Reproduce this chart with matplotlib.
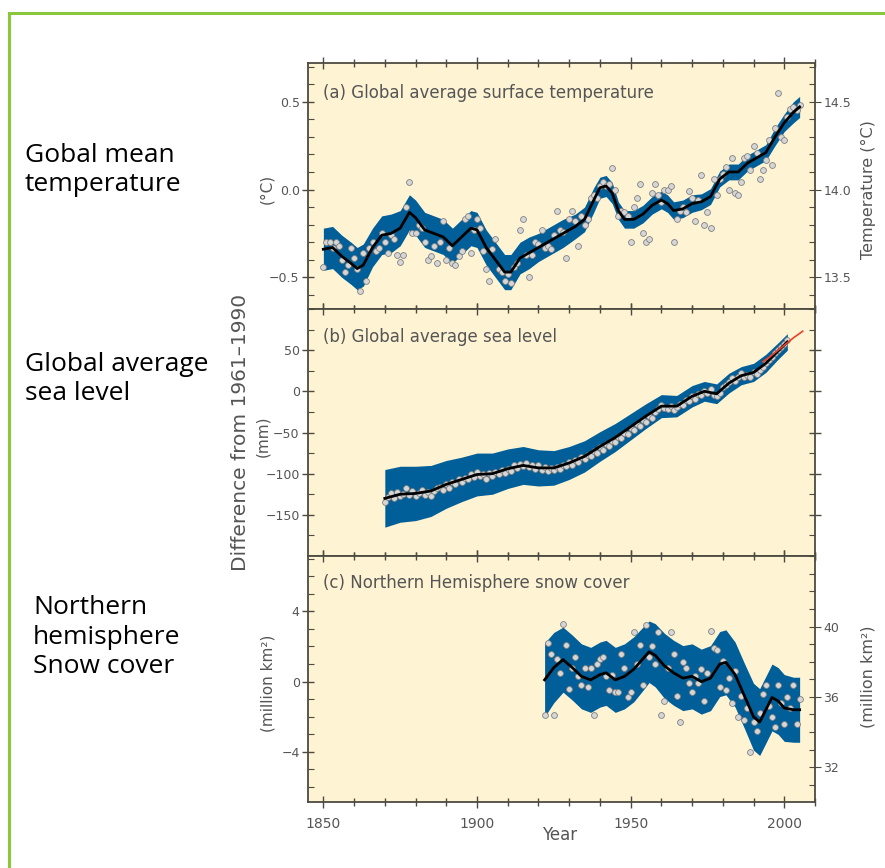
"""IPCC AR4 style three-panel chart: temperature, sea level, snow cover."""

import matplotlib
matplotlib.use("Agg")  # no display
import matplotlib.pyplot as plt
from matplotlib.patches import Rectangle
from matplotlib.ticker import FixedLocator, MultipleLocator

# ---- (a) global average surface temperature, anomaly vs 1961-1990 (degC)
temp_years = list(range(1850, 2006))
temp_vals = [
    -0.44, -0.30, -0.30, -0.33, -0.30, -0.32, -0.40, -0.47, -0.43, -0.33,
    -0.39, -0.45, -0.58, -0.36, -0.52, -0.33, -0.30, -0.35, -0.33, -0.25,
    -0.30, -0.36, -0.26, -0.28, -0.37, -0.41, -0.37, -0.10, 0.04, -0.25,
    -0.25, -0.20, -0.22, -0.30, -0.40, -0.38, -0.32, -0.42, -0.30, -0.18,
    -0.40, -0.33, -0.42, -0.43, -0.38, -0.35, -0.17, -0.15, -0.36, -0.23,
    -0.17, -0.22, -0.35, -0.45, -0.52, -0.34, -0.28, -0.45, -0.47, -0.52,
    -0.48, -0.53, -0.44, -0.42, -0.23, -0.17, -0.37, -0.50, -0.37, -0.30,
    -0.31, -0.23, -0.33, -0.32, -0.34, -0.26, -0.12, -0.23, -0.24, -0.39,
    -0.17, -0.12, -0.18, -0.32, -0.15, -0.20, -0.17, -0.05, -0.03, -0.05,
    0.02, 0.04, 0.02, 0.03, 0.12, 0.00, -0.15, -0.12, -0.13, -0.15,
    -0.30, -0.10, -0.05, 0.03, -0.25, -0.30, -0.28, -0.02, 0.03, -0.03,
    -0.07, 0.00, 0.00, 0.02, -0.30, -0.17, -0.12, -0.10, -0.13, -0.01,
    -0.05, -0.18, -0.06, 0.08, -0.20, -0.13, -0.22, 0.06, -0.03, 0.06,
    0.09, 0.13, 0.00, 0.18, -0.02, -0.03, 0.04, 0.18, 0.19, 0.11,
    0.25, 0.21, 0.06, 0.11, 0.17, 0.28, 0.14, 0.35, 0.55, 0.30,
    0.28, 0.41, 0.46, 0.47, 0.45, 0.48,
]
temp_smooth_years = [1850, 1853, 1856, 1859, 1861, 1863, 1866, 1869, 1872, 1875,
                     1878, 1880, 1883, 1886, 1889, 1892, 1895, 1898, 1900, 1903,
                     1906, 1909, 1911, 1914, 1917, 1920, 1924, 1928, 1932, 1935,
                     1938, 1940, 1942, 1944, 1946, 1948, 1951, 1954, 1957, 1960,
                     1962, 1964, 1967, 1970, 1973, 1976, 1979, 1982, 1985, 1988,
                     1991, 1994, 1997, 2000, 2003, 2005]
temp_smooth = [-0.34, -0.33, -0.38, -0.42, -0.45, -0.43, -0.33, -0.26, -0.25, -0.22,
               -0.13, -0.16, -0.23, -0.25, -0.27, -0.32, -0.27, -0.22, -0.23, -0.33,
               -0.40, -0.47, -0.47, -0.39, -0.36, -0.33, -0.29, -0.25, -0.21, -0.17,
               -0.06, 0.01, 0.02, -0.02, -0.12, -0.17, -0.17, -0.14, -0.09, -0.06,
               -0.08, -0.12, -0.11, -0.08, -0.07, -0.04, 0.06, 0.10, 0.10, 0.15,
               0.18, 0.21, 0.30, 0.38, 0.44, 0.47]
temp_band = [0.12, 0.12, 0.12, 0.12, 0.12, 0.12, 0.11, 0.11, 0.11, 0.10,
             0.10, 0.10, 0.10, 0.10, 0.10, 0.10, 0.10, 0.10, 0.10, 0.10,
             0.10, 0.10, 0.10, 0.09, 0.09, 0.08, 0.08, 0.08, 0.07, 0.07,
             0.07, 0.06, 0.06, 0.06, 0.05, 0.05, 0.05, 0.05, 0.05, 0.05,
             0.05, 0.05, 0.05, 0.05, 0.045, 0.045, 0.045, 0.045, 0.045, 0.045,
             0.045, 0.045, 0.05, 0.05, 0.06, 0.06]

# ---- (b) global average sea level, anomaly vs 1961-1990 (mm)
sea_years = list(range(1870, 2002))
sea_vals = [
    -135, -128, -124, -130, -122, -127, -125, -118, -126, -121,
    -127, -124, -120, -126, -122, -127, -121, -118, -116, -120,
    -113, -117, -110, -112, -106, -110, -105, -107, -101, -104,
    -98, -103, -100, -106, -99, -103, -98, -101, -95, -99,
    -94, -97, -90, -93, -88, -91, -87, -92, -89, -94,
    -90, -95, -92, -97, -93, -96, -92, -94, -89, -91,
    -86, -89, -84, -86, -80, -82, -77, -79, -73, -75,
    -68, -71, -64, -66, -60, -61, -55, -57, -50, -52,
    -45, -47, -40, -42, -35, -37, -30, -32, -25, -22,
    -17, -20, -22, -18, -23, -19, -15, -17, -10, -12,
    -6, -9, -3, -5, 1, -2, 3, -4, -6, -2,
    5, 8, 11, 16, 13, 18, 22, 17, 20, 18,
    24, 21, 26, 30, 34, 38, 42, 47, 50, 54,
    57, 62,
]
sea_smooth_years = [1870, 1875, 1880, 1885, 1890, 1895, 1900, 1905, 1910, 1915,
                    1920, 1925, 1930, 1935, 1940, 1945, 1950, 1955, 1960, 1965,
                    1970, 1974, 1978, 1982, 1986, 1990, 1994, 1998, 2001]
sea_smooth = [-130, -125, -124, -121, -113, -107, -101, -100, -94, -90,
              -93, -93, -87, -79, -67, -56, -43, -30, -18, -18,
              -6, 0, -3, 10, 19, 23, 34, 49, 60]
sea_band = [35, 34, 33, 31, 29, 27, 26, 25, 24, 23,
            22, 21, 20, 19, 18, 17, 16, 15, 14, 13,
            13, 12, 12, 12, 11, 11, 11, 10, 10]
# satellite altimetry (red)
sat_years = [1993, 1995, 1997, 1999, 2001, 2003, 2006]
sat_vals = [36, 41, 47, 53, 59, 65, 73]

# ---- (c) NH snow cover, anomaly vs 1961-1990 (million km2)
snow_years = list(range(1922, 2006))
snow_vals = [
    -1.9, 2.2, 1.6, -1.9, 1.3, 0.5, 3.3, 2.1, -0.4, 0.8,
    1.4, 0.3, -0.2, 0.8, -0.3, 0.8, -1.9, 1.0, 1.3, 1.4,
    0.3, -0.5, 0.4, -0.6, -0.6, 1.6, 0.8, -0.9, -0.6, 2.8,
    1.0, 2.1, -0.2, 3.2, 1.4, 2.0, 1.0, 2.8, -1.9, -1.1,
    0.8, 2.8, 1.6, -0.8, -2.3, 1.1, 0.8, -0.1, -0.6, 0.3,
    -0.1, 0.7, -1.1, 0.5, 2.9, 1.9, 1.8, -0.3, 1.2, -0.5,
    0.2, -1.2, 0.6, -2.0, -0.8, -2.2, -1.5, -4.0, -2.3, -2.8,
    -1.8, -0.7, -0.2, -1.4, -2.0, -2.6, -0.2, -1.2, -2.4, -0.9,
    -1.5, -0.2, -2.4, -1.0,
]
snow_smooth_years = [1922, 1925, 1928, 1931, 1934, 1937, 1940, 1942, 1945, 1948,
                     1951, 1954, 1956, 1958, 1961, 1964, 1967, 1970, 1973, 1976,
                     1979, 1981, 1984, 1987, 1990, 1992, 1994, 1996, 1998, 2000,
                     2003, 2005]
snow_smooth = [0.1, 0.8, 1.25, 0.8, 0.3, 0.1, 0.4, 0.5, 0.1, 0.3,
               0.7, 1.3, 1.7, 1.5, 0.9, 0.5, 0.2, 0.3, 0.0, 0.2,
               1.0, 1.1, 0.4, -0.8, -2.0, -2.3, -1.6, -0.9, -1.1, -1.5,
               -1.6, -1.6]
snow_band = [2.1, 2.0, 1.85, 1.85, 1.85, 1.85, 1.85, 1.85, 1.85, 1.85,
             1.85, 1.8, 1.75, 1.8, 1.85, 1.85, 1.85, 1.85, 1.85, 1.85,
             1.85, 1.85, 1.85, 1.85, 1.9, 1.9, 1.9, 1.9, 1.9, 1.9,
             1.85, 1.85]

BG = "#FEF4D4"
BAND = "#005E98"
AXC = "#4d4b40"
TXT = "#555555"


def draw_panel(ax, yrs, vals, s_yrs, s_vals, band):
    lo = [v - b for v, b in zip(s_vals, band)]
    hi = [v + b for v, b in zip(s_vals, band)]
    ax.fill_between(s_yrs, lo, hi, color=BAND, lw=0, zorder=1)
    ax.plot(yrs, vals, "o", ms=4.2, mfc="#d6d6d6", mec="#808080", mew=0.6, zorder=2)
    ax.plot(s_yrs, s_vals, color="black", lw=2.0, zorder=3)


def style(ax, bottom_labels=False):
    ax.set_facecolor(BG)
    ax.set_xlim(1845, 2010)
    for sp in ax.spines.values():
        sp.set_color(AXC)
        sp.set_linewidth(1.3)
    ax.xaxis.set_major_locator(FixedLocator([1850, 1900, 1950, 2000]))
    ax.xaxis.set_minor_locator(MultipleLocator(10))
    ax.tick_params(axis="x", which="both", direction="inout", top=True, bottom=True,
                   color=AXC, labelbottom=bottom_labels, labelsize=10, labelcolor=TXT, pad=6)
    ax.tick_params(axis="x", which="major", length=9, width=1.0)
    ax.tick_params(axis="x", which="minor", length=6, width=1.0)
    ax.tick_params(axis="y", which="major", direction="inout", length=8, width=1.0,
                   color=AXC, labelsize=9, labelcolor=TXT, pad=2)
    ax.tick_params(axis="y", which="minor", direction="in", length=4, width=0.8, color=AXC)


def style_right(ax):
    ax.tick_params(axis="y", which="major", direction="inout", length=8, color=AXC,
                   labelsize=9, labelcolor=TXT, pad=2)
    ax.tick_params(axis="y", which="minor", direction="in", length=4, width=0.8, color=AXC)
    for sp in ax.spines.values():
        sp.set_visible(False)


fig = plt.figure(figsize=(8.85, 8.68), dpi=100)
W, H = 885, 868
x0, x1 = 308 / W, 815 / W
edges = [63, 309, 556, 802]
axs = []
for i in range(3):
    ax = fig.add_axes([x0, 1 - edges[i + 1] / H, x1 - x0, (edges[i + 1] - edges[i]) / H])
    axs.append(ax)
ax_a, ax_b, ax_c = axs

# (a)
draw_panel(ax_a, temp_years, temp_vals, temp_smooth_years, temp_smooth, temp_band)
style(ax_a)
ax_a.set_ylim(-0.68, 0.72)
ax_a.yaxis.set_major_locator(FixedLocator([-0.5, 0.0, 0.5]))
ax_a.yaxis.set_minor_locator(MultipleLocator(0.1))
ax_a.text(0.03, 0.88, "(a) Global average surface temperature", transform=ax_a.transAxes,
          fontsize=12, color=TXT, va="center")
ra = ax_a.twinx()
ra.set_ylim(-0.68 + 14.0, 0.72 + 14.0)
ra.yaxis.set_major_locator(FixedLocator([13.5, 14.0, 14.5]))
ra.yaxis.set_minor_locator(MultipleLocator(0.1))
style_right(ra)

# (b)
draw_panel(ax_b, sea_years, sea_vals, sea_smooth_years, sea_smooth, sea_band)
ax_b.plot(sat_years, sat_vals, color="#e8412c", lw=1.2, zorder=4)
style(ax_b)
ax_b.set_ylim(-200, 100)
ax_b.yaxis.set_major_locator(FixedLocator([-150, -100, -50, 0, 50]))
ax_b.yaxis.set_minor_locator(MultipleLocator(25))
ax_b.tick_params(axis="y", which="both", right=True)
ax_b.text(0.03, 0.885, "(b) Global average sea level", transform=ax_b.transAxes,
          fontsize=12, color=TXT, va="center")

# (c)
draw_panel(ax_c, snow_years, snow_vals, snow_smooth_years, snow_smooth, snow_band)
style(ax_c, bottom_labels=True)
ax_c.set_ylim(-6.85, 7.15)
ax_c.yaxis.set_major_locator(FixedLocator([-4, 0, 4]))
ax_c.yaxis.set_minor_locator(MultipleLocator(1))
ax_c.text(0.03, 0.89, "(c) Northern Hemisphere snow cover", transform=ax_c.transAxes,
          fontsize=12, color=TXT, va="center")
rc = ax_c.twinx()
rc.set_ylim(-6.85 + 36.87, 7.15 + 36.87)
rc.yaxis.set_major_locator(FixedLocator([32, 36, 40]))
rc.yaxis.set_minor_locator(MultipleLocator(1))
style_right(rc)

# axis labels
fig.text(560 / W, 1 - 835 / H, "Year", fontsize=12, color=TXT, ha="center", va="center")
fig.text(240 / W, 1 - 432 / H, "Difference from 1961\u20131990", fontsize=14.5,
         color=TXT, rotation=90, ha="center", va="center")
fig.text(267 / W, 1 - 189 / H, "(\u00b0C)", fontsize=11, color=TXT,
         rotation=90, ha="center", va="center")
fig.text(263 / W, 1 - 436 / H, "(mm)", fontsize=11, color=TXT,
         rotation=90, ha="center", va="center")
fig.text(268 / W, 1 - 683 / H, "(million km\u00b2)", fontsize=11, color=TXT,
         rotation=90, ha="center", va="center")
fig.text(868 / W, 1 - 190 / H, "Temperature (\u00b0C)", fontsize=11.5, color=TXT,
         rotation=90, ha="center", va="center")
fig.text(868 / W, 1 - 677 / H, "(million km\u00b2)", fontsize=11.5, color=TXT,
         rotation=90, ha="center", va="center")

# slide captions on the left
cap = dict(fontsize=19, family="Open Sans", color="black", ha="left", va="center",
           linespacing=1.25)
fig.text(25 / W, 1 - 170 / H, "Gobal mean\ntemperature", **cap)
fig.text(25 / W, 1 - 379 / H, "Global average\nsea level", **cap)
fig.text(33 / W, 1 - 637 / H, "Northern\nhemisphere\nSnow cover", **cap)

# green slide frame
fig.patches.append(Rectangle((9 / W, -0.2), 1.2, 1 - 13 / H + 0.2, transform=fig.transFigure,
                             fill=False, edgecolor="#8cc63f", lw=2.2, zorder=0))

fig.savefig("out.png", dpi=100)
plt.close(fig)
